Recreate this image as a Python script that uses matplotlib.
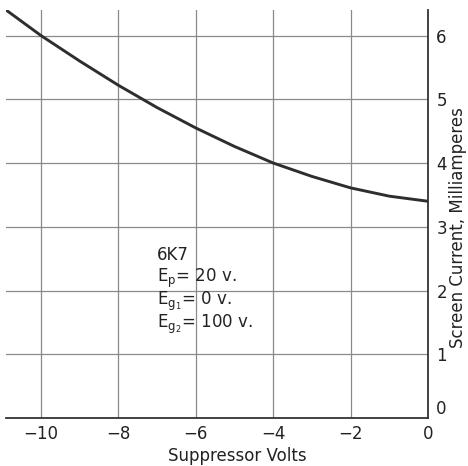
import matplotlib.pyplot as plt
import numpy as np

# values
volts = [-10.9, -10, -9, -8, -7, -6, -5, -4, -3, -2, -1, 0]
current = [6.4, 6.0, 5.6, 5.22, 4.87, 4.55, 4.26, 4.0, 3.79, 3.61, 3.48, 3.4]

xticks = [-10, -8, -6, -4, -2, 0]
xticklabels = ["\u221210", "\u22128", "\u22126", "\u22124", "\u22122", "0"]
yticks = [0, 1, 2, 3, 4, 5, 6]

notes = ["6K7",
         r"$\mathrm{E_p}$= 20 v.",
         r"$\mathrm{E_{g_1}}$= 0 v.",
         r"$\mathrm{E_{g_2}}$= 100 v."]

plt.rcParams["mathtext.fontset"] = "dejavusans"
fig = plt.figure(figsize=(4.68, 4.66), dpi=100)
ax = fig.add_axes([0.013, 0.103, 0.9015, 0.8755])

ax.set_xlim(-10.9, 0)
ax.set_ylim(0, 6.4)

for x in xticks[:-1]:
    ax.axvline(x, color="#8a8a8a", lw=0.9, zorder=1)
for y in yticks[1:]:
    ax.axhline(y, color="#8a8a8a", lw=0.9, zorder=1)

ax.plot(volts, current, color="#2e2e2e", lw=2.1, zorder=3)

for s in ["left", "top"]:
    ax.spines[s].set_visible(False)
ax.spines["right"].set_color("#333333")
ax.spines["right"].set_linewidth(1.3)
ax.spines["bottom"].set_color("#333333")
ax.spines["bottom"].set_linewidth(1.3)

ax.set_xticks(xticks)
ax.set_xticklabels(xticklabels, fontsize=12, color="#222222")
ax.set_yticks(yticks)
ax.set_yticklabels([str(v) for v in yticks], fontsize=12, color="#222222")
ax.yaxis.tick_right()
ax.tick_params(length=0, pad=5)
ax.tick_params(axis="y", pad=6)
ax.get_yticklabels()[0].set_va("bottom")

fig.text(237 / 468, 1 - 456 / 466, "Suppressor Volts", fontsize=12,
         color="#222222", ha="center", va="center")
fig.text(458 / 468, 1 - 228 / 466, "Screen Current, Milliamperes", fontsize=12,
         color="#222222", rotation=90, ha="center", va="center")

for i, t in enumerate(notes):
    ax.text(-7.0, 2.55 - i * 0.36, t, fontsize=12, color="#222222",
            va="center", ha="left")

fig.savefig("out.png", dpi=100)
